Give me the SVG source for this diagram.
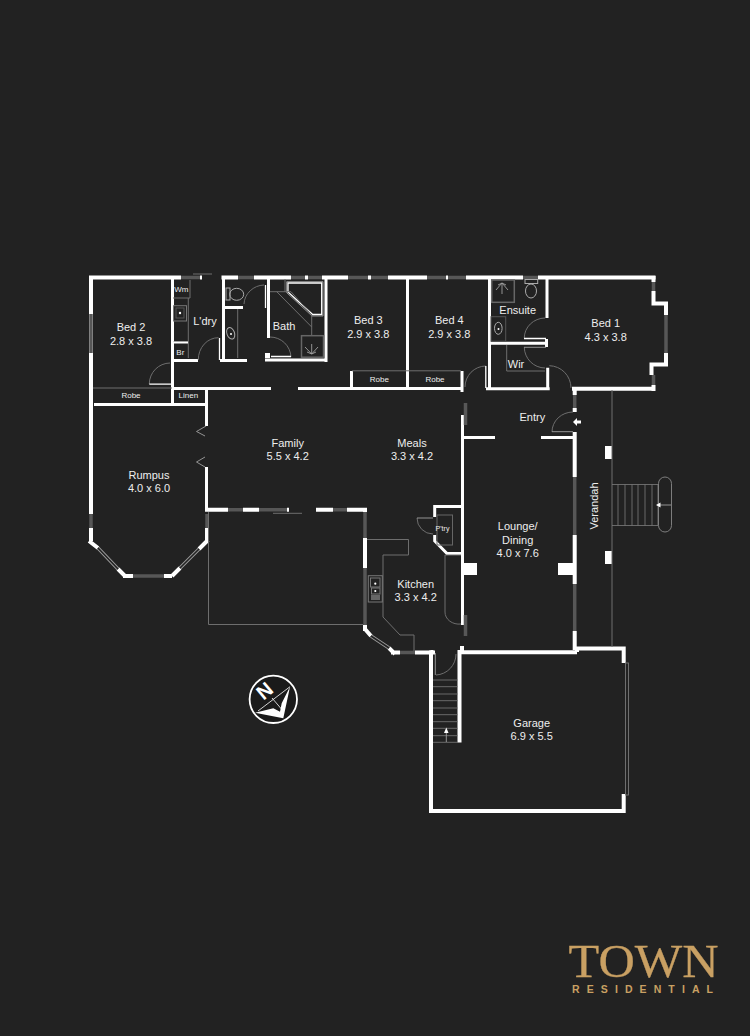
<svg xmlns="http://www.w3.org/2000/svg" width="750" height="1036" viewBox="0 0 750 1036">
<style>
.w{fill:none;stroke:#fff;stroke-width:4}
.t{fill:none;stroke:#fff;stroke-width:3}
.f{fill:none;stroke:#fff;stroke-width:1.3}
.d{fill:none;stroke:#575757;stroke-width:3.5}
.g{fill:none;stroke:#6e6e6e;stroke-width:1}
.l{fill:none;stroke:#a0a0a0;stroke-width:.9}
.r{fill:none;stroke:#7c7c7c;stroke-width:.8}
.a{fill:none;stroke:#9a9a9a;stroke-width:3.4}
.b{fill:none;stroke:#222;stroke-width:1.6}
.s{fill:#fff}
text{font-family:"Liberation Sans",Arial,sans-serif;fill:#eee;text-anchor:middle}
.m{font-size:11px}
.n{font-size:8px}
</style>
<rect width="750" height="1036" fill="#222"/>
<g id="walls">
<path class="w" d="M91 279.500V514M91 528V541M89 277.500H181M200 277.500H202M221.500 277.500H238M254 277.500H291M305 277.500H308M322 277.500H348M368 277.500H371M388 277.500H427M446 277.500H448M466 277.500H523M538 277.500H655.500"/>
<path class="w" d="M653.500 276V282M653.500 291V303.500H668M666 302V315M666 353V366M668 364.500H651.500V375M653.500 385V391M655.500 388.700H572"/>
<path class="t" d="M172.500 279V404M171 360.500H198M220 360.500H247M223.500 279V360M265 360H326.500M268.500 279V338M225 307.500H243M326 279V362M172 388.500H271M298 388.500H461M407.500 279V388M351.500 371V388M462 371V392M489.500 279V390M486 388.700H549.700M547 279V318M547.700 367.700V388M491 343.300H548M546.500 339V347M94 404.500H208M206.500 388V426M206.500 467V509M432 650V652"/>
<path class="w" d="M205 509.700H228M243 509.700H259M287 509.700H289M316 509.700H333M347 509.700H367"/>
<path class="w" d="M365 510V512M365 538V568M365 625V631M207 528V541M89 541L98 548M118 569L125 576M123 576H133M164 576H172M172 576L180 568M199 549L208 540"/>
<path class="w" d="M391 652.500H400M415 652.500H435M389 648L395 654M365 629L371 636"/>
<path class="t" d="M462.500 415V625M462.500 646V651M435 506.500H462M434.700 505V517M434.700 535V541L447 553.500H462M463 437.500H495M541 437.500H574.500"/>
<path class="w" d="M574.700 388V395M574.700 408V412M574.700 432V477M574.700 535V584M574.700 631V650M431 650.500V813M429 811H625.700M623.700 813V794M623.700 663V648.500H575M577 646.500V652M458 652.200H577M459.500 650V742.500M462 646V650"/>
<rect class="s" x="461" y="563" width="16" height="12"/>
<rect class="s" x="558" y="563" width="15" height="12"/>
<rect class="s" x="605" y="446" width="7" height="13"/>
<rect class="s" x="605" y="551" width="7" height="13"/>
</g>
<g id="windows">
<path class="d" d="M181 277.500H200M238 277.500H254M291 277.500H305M308 277.500H322M348 277.500H368M371 277.500H388M427 277.500H446M448 277.500H466M523 277.500H538M653.500 282V291M666 315V353M653.500 375V385M91 314V353"/>
<path class="d" d="M91 514V528M207 514V528M133 576H164M228 509.700H243M259 509.700H287M333 509.700H347M365 512V538M365 568V625M400 652.500H415M574.700 395V408M574.700 477V535M574.700 584V631"/>
<path class="d" stroke-width="2.500" d="M465.500 403V425M465.500 615V636"/>
<path class="a" d="M98 548L118 569M180 568L199 549M371 636L389 648"/>
<path class="b" d="M98 548L118 569M180 568L199 549M371 636L389 648"/>
<path class="g" stroke-width="2" d="M193 274H212M273 513.300H302"/>
<rect x="625.500" y="663" width="3" height="132" fill="#222" stroke="#777" stroke-width=".9"/>
</g>
<g id="doors">
<path class="g" d="M149.300 384A21 21 0 0 1 170 363M198.300 360A20 22 0 0 1 218.500 337.700M244 304A21 20 0 0 1 264 285M270 337A21 21 0 0 1 291 357M465 387A21 21 0 0 1 485.700 366M545 318A21 20 0 0 0 524.300 338M524.300 347.300A21 21 0 0 0 545 368M549.300 365.700A22 22 0 0 1 571 388M552 432A21 20 0 0 1 573 412M417 518A16 16 0 0 0 433 534M436 675A21 21 0 0 0 456 654M445 612A14 12 0 0 0 461 624M445 612V555H461"/>
<path class="f" d="M149.300 384.200H171M219.500 338V360M265.500 285V308M271 356.500H291M524 338.500H546M485.800 366V388"/>
<path class="l" stroke-width="1.500" d="M524 347.300H546M552 431.700H573M435.300 653V675"/>
<path class="l" d="M417 518H433M206 426L196.500 431.500L205 436M205 457L196.500 462L205 467"/>
<path class="s" d="M573 422L577 418V420.500H581V423.500H577V426Z"/>
<rect class="s" x="265" y="353" width="5" height="5"/>
</g>
<g id="fixtures">
<path class="g" d="M173 298H190V280M188.300 298V358M173 342H188M237.700 309V358M93 388H172M352 370.800H461M506.700 345V371H545M208.500 512V624.500H363M367 539.500H408.500V555H383V617L400 635H414V651"/>
<rect class="s" x="173" y="341.500" width="15" height="2"/>
<rect x="173.500" y="305.700" width="13" height="15.300" fill="none" stroke="#777"/>
<rect x="176" y="308" width="8" height="10" fill="none" stroke="#555"/>
<circle cx="180" cy="313" r="1.200" fill="#fff"/>
<rect x="226" y="288" width="4" height="12" fill="none" stroke="#aaa"/>
<ellipse cx="236.700" cy="294.300" rx="7" ry="6" fill="none" stroke="#aaa"/>
<ellipse cx="230.700" cy="333.300" rx="3.800" ry="6" fill="none" stroke="#aaa" transform="rotate(-20 230.700 333.300)"/>
<circle cx="231" cy="334" r="1" fill="#fff"/>
<path class="l" d="M286.700 281.700H323V316H312L286.700 292.700Z"/>
<path class="f" stroke-width="1" d="M288 283H321.700V314.500H312.700L288 292Z"/>
<path class="g" d="M285 279V292M270 291.700H291L311.700 315V336M276.700 291.700L311.700 327"/>
<rect x="301.500" y="335.700" width="22" height="21.500" fill="none" stroke="#666" stroke-width="1.500"/>
<path class="l" d="M311.700 354L305 347M311.700 354V344M311.700 354L318 347M311.700 354L307 352M311.700 354L316 352"/>
<rect x="491.700" y="280" width="22.600" height="22.300" fill="none" stroke="#666" stroke-width="1.500"/>
<path class="l" d="M502 283L496 290M502 283V294M502 283L508 290M502 283L498 285M502 283L506 285"/>
<rect x="525" y="279.500" width="12.700" height="4" fill="none" stroke="#aaa"/>
<ellipse cx="531" cy="291" rx="5.500" ry="7" fill="none" stroke="#aaa"/>
<rect x="491" y="316.700" width="14.700" height="24.500" fill="none" stroke="#555"/>
<ellipse cx="498.300" cy="328.300" rx="3.800" ry="6" fill="none" stroke="#aaa"/>
<circle cx="498.500" cy="329" r="1" fill="#fff"/>
<rect x="437" y="515" width="15.500" height="30" fill="none" stroke="#666"/>
<rect x="368.300" y="575.700" width="14" height="26.300" fill="none" stroke="#777"/>
<rect x="370.500" y="578" width="9.500" height="9" fill="none" stroke="#777"/>
<rect x="371.500" y="588" width="8.500" height="6" fill="none" stroke="#777"/>
<rect x="371" y="595" width="9" height="5" fill="#666"/>
<circle cx="375.300" cy="583.700" r="1.100" fill="#fff"/>
<circle cx="375.300" cy="591" r="1.100" fill="#fff"/>
</g>
<g id="stairs">
<path class="r" d="M433 680H458M433 686.700H458M433 694H458M433 700.700H458M433 708H458M433 714.700H458M433 721.700H458M433 728.300H458M433 735.700H458M433 742.300H458"/>
<path class="l" d="M446.300 742V732"/>
<path class="s" d="M446.300 727.500L448.500 733H444Z"/>
<path class="g" stroke="#777" d="M612 390V647"/>
<path class="r" d="M612 484.500H658M612 525.500H658M618 484.500V525.500M625 484.500V525.500M632 484.500V525.500M638 484.500V525.500M645 484.500V525.500M652 484.500V525.500M658 484.500V525.500"/>
<path class="l" d="M660 505H671"/>
<rect x="658.500" y="477" width="13" height="55" rx="6.500" fill="none" stroke="#888" stroke-width=".9"/>
<path class="s" d="M656 505L660.500 502.500V507.500Z"/>
</g>
<g id="labels">
<text class="m" x="131" y="331">Bed 2</text><text class="m" x="131" y="345">2.8 x 3.8</text>
<text class="m" x="368.300" y="324">Bed 3</text><text class="m" x="368.300" y="338">2.9 x 3.8</text>
<text class="m" x="449.300" y="324">Bed 4</text><text class="m" x="449.300" y="338">2.9 x 3.8</text>
<text class="m" x="605.700" y="327">Bed 1</text><text class="m" x="605.700" y="341">4.3 x 3.8</text>
<text class="m" x="205" y="325">L'dry</text>
<text class="m" x="284" y="330">Bath</text>
<text class="m" x="517.700" y="314">Ensuite</text>
<text class="m" x="516" y="368">Wir</text>
<text class="m" x="532.300" y="421">Entry</text>
<text class="m" x="287.700" y="447">Family</text><text class="m" x="287.700" y="460">5.5 x 4.2</text>
<text class="m" x="412" y="447">Meals</text><text class="m" x="412" y="460">3.3 x 4.2</text>
<text class="m" x="149" y="479">Rumpus</text><text class="m" x="149" y="492">4.0 x 6.0</text>
<text class="m" x="415.700" y="588">Kitchen</text><text class="m" x="415.700" y="601">3.3 x 4.2</text>
<text class="m" x="517.700" y="530">Lounge/</text><text class="m" x="517.700" y="544">Dining</text><text class="m" x="517.700" y="557">4.0 x 7.6</text>
<text class="m" x="531.700" y="727">Garage</text><text class="m" x="531.700" y="740">6.9 x 5.5</text>
<text class="m" transform="translate(598 506) rotate(-90)">Verandah</text>
<text class="n" x="131" y="398">Robe</text>
<text class="n" x="188.300" y="398">Linen</text>
<text class="n" x="379.300" y="381.500">Robe</text>
<text class="n" x="435" y="381.500">Robe</text>
<text class="n" x="181.300" y="291.500">Wm</text>
<text class="n" x="180.300" y="354.500">Br</text>
<text font-size="7" x="442.500" y="530.500">P'try</text>
</g>
<g id="compass">
<circle cx="273.300" cy="699.300" r="23.700" fill="#1a1a1a" stroke="#fff" stroke-width="1.800"/>
<path class="s" d="M290 686.700L283.300 718.300L255 712.700L273.300 708.300L280 711.700L281.700 703.300Z"/>
<path stroke="#fff" fill="none" stroke-width=".8" d="M272 698L284 712M290 686.700L258 711"/>
<text font-size="20" font-weight="bold" style="fill:#fff" transform="translate(269 696) rotate(-40)">N</text>
</g>
<g id="logo">
<text transform="translate(643.500 977) scale(1.070 1)" font-size="47" stroke="#c9a063" stroke-width=".3" style="font-family:'Liberation Serif','Times New Roman',serif;fill:#c9a063">TOWN</text>
<text x="642.500" y="992.500" font-size="10.500" font-weight="bold" textLength="141" lengthAdjust="spacing" style="fill:#c9a063">RESIDENTIAL</text>
</g>
</svg>
